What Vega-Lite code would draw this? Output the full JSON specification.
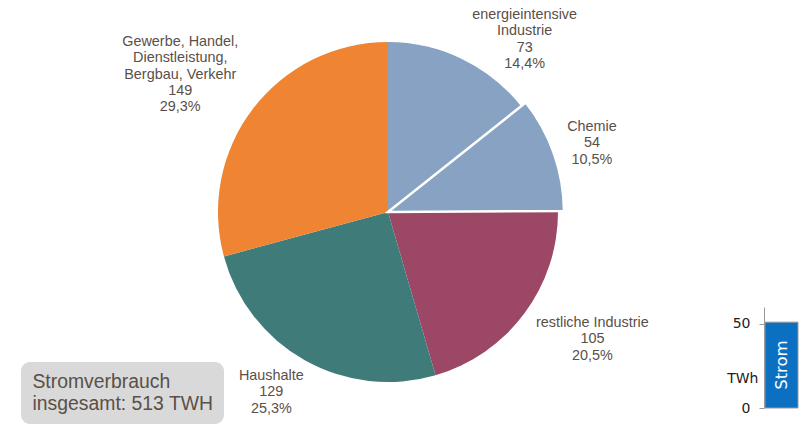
{
  "$schema": "https://vega.github.io/schema/vega-lite/v6.json",
  "padding": {"left": 21, "top": 0, "right": 0, "bottom": 0},
  "background": "white",
  "bounds": "flush",
  "spacing": 69,
  "config": {"view": {"stroke": null}, "font": "Liberation Sans"},
  "hconcat": [
    {
      "width": 614,
      "height": 424,
      "data": {
        "values": [
          {"nr": 1, "sektor": "energieintensive Industrie", "twh": 73, "anteil": "14,4%", "label": "energieintensive\nIndustrie\n73\n14,4%"},
          {"nr": 2, "sektor": "Chemie", "twh": 54, "anteil": "10,5%", "label": "Chemie\n54\n10,5%"},
          {"nr": 3, "sektor": "restliche Industrie", "twh": 105, "anteil": "20,5%", "label": "restliche Industrie\n105\n20,5%"},
          {"nr": 4, "sektor": "Haushalte", "twh": 129, "anteil": "25,3%", "label": "Haushalte\n129\n25,3%"},
          {"nr": 5, "sektor": "Gewerbe, Handel, Dienstleistung, Bergbau, Verkehr", "twh": 149, "anteil": "29,3%", "label": "Gewerbe, Handel,\nDienstleistung,\nBergbau, Verkehr\n149\n29,3%"}
        ]
      },
      "layer": [
        {
          "mark": {"type": "arc", "outerRadius": 170},
          "encoding": {
            "theta": {"field": "twh", "type": "quantitative", "stack": true},
            "order": {"field": "nr", "type": "quantitative"},
            "color": {
              "field": "sektor", "type": "nominal", "legend": null,
              "scale": {
                "domain": ["energieintensive Industrie", "Chemie", "restliche Industrie", "Haushalte", "Gewerbe, Handel, Dienstleistung, Bergbau, Verkehr"],
                "range": ["#87a2c2", "#87a2c2", "#9d4767", "#3e7b79", "#ef8533"]
              }
            }
          }
        },
        {
          "mark": {"type": "arc", "outerRadius": 176, "stroke": "white", "strokeWidth": 2.5},
          "encoding": {
            "theta": {"field": "twh", "type": "quantitative", "stack": true},
            "order": {"field": "nr", "type": "quantitative"},
            "color": {"field": "sektor", "type": "nominal", "legend": null},
            "opacity": {"condition": {"test": "datum.sektor === 'Chemie'", "value": 1}, "value": 0}
          }
        },
        {
          "mark": {"type": "text", "clip": true, "radius": 220, "dx": 41, "dy": 1, "fontSize": 14.4, "lineHeight": 16.4, "lineBreak": "\n", "align": "center", "baseline": "middle", "color": "#5a5048"},
          "encoding": {
            "theta": {"field": "twh", "type": "quantitative", "stack": true},
            "order": {"field": "nr", "type": "quantitative"},
            "detail": {"field": "sektor", "type": "nominal"},
            "text": {"condition": {"test": "datum.sektor === 'energieintensive Industrie'", "field": "label"}, "value": ""}
          }
        },
        {
          "mark": {"type": "text", "clip": true, "radius": 220, "dx": -3.5, "dy": -12, "fontSize": 14.4, "lineHeight": 16.4, "lineBreak": "\n", "align": "center", "baseline": "middle", "color": "#5a5048"},
          "encoding": {
            "theta": {"field": "twh", "type": "quantitative", "stack": true},
            "order": {"field": "nr", "type": "quantitative"},
            "detail": {"field": "sektor", "type": "nominal"},
            "text": {"condition": {"test": "datum.sektor === 'Chemie'", "field": "label"}, "value": ""}
          }
        },
        {
          "mark": {"type": "text", "clip": true, "radius": 220, "dx": 28, "dy": -20.5, "fontSize": 14.4, "lineHeight": 16.4, "lineBreak": "\n", "align": "center", "baseline": "middle", "color": "#5a5048"},
          "encoding": {
            "theta": {"field": "twh", "type": "quantitative", "stack": true},
            "order": {"field": "nr", "type": "quantitative"},
            "detail": {"field": "sektor", "type": "nominal"},
            "text": {"condition": {"test": "datum.sektor === 'restliche Industrie'", "field": "label"}, "value": ""}
          }
        },
        {
          "mark": {"type": "text", "clip": true, "radius": 220, "dx": -9, "dy": -28, "fontSize": 14.4, "lineHeight": 16.4, "lineBreak": "\n", "align": "center", "baseline": "middle", "color": "#5a5048"},
          "encoding": {
            "theta": {"field": "twh", "type": "quantitative", "stack": true},
            "order": {"field": "nr", "type": "quantitative"},
            "detail": {"field": "sektor", "type": "nominal"},
            "text": {"condition": {"test": "datum.sektor === 'Haushalte'", "field": "label"}, "value": ""}
          }
        },
        {
          "mark": {"type": "text", "clip": true, "radius": 220, "dx": -33, "dy": -36.5, "fontSize": 14.4, "lineHeight": 16.4, "lineBreak": "\n", "align": "center", "baseline": "middle", "color": "#5a5048"},
          "encoding": {
            "theta": {"field": "twh", "type": "quantitative", "stack": true},
            "order": {"field": "nr", "type": "quantitative"},
            "detail": {"field": "sektor", "type": "nominal"},
            "text": {"condition": {"test": "datum.sektor === 'Gewerbe, Handel, Dienstleistung, Bergbau, Verkehr'", "field": "label"}, "value": ""}
          }
        },
        {
          "data": {"values": [{"zeile": "Stromverbrauch"}, {"zeile": "insgesamt: 513 TWH"}]},
          "mark": {"type": "point", "size": 0, "opacity": 0},
          "encoding": {
            "shape": {
              "field": "zeile", "type": "nominal",
              "sort": ["Stromverbrauch", "insgesamt: 513 TWH"],
              "legend": {
                "orient": "none", "direction": "vertical", "legendX": -60, "legendY": 362,
                "title": null, "fillColor": "#d9d9d9", "cornerRadius": 9, "padding": 10,
                "symbolSize": 0, "symbolOpacity": 0, "symbolStrokeWidth": 0, "labelOffset": -18,
                "labelFont": "Liberation Sans", "labelFontSize": 19.4, "labelColor": "#5a5048",
                "labelLimit": 400, "rowPadding": 1
              }
            }
          }
        }
      ]
    },
    {
      "width": 35,
      "height": 424,
      "data": {"values": [{"traeger": "Strom", "twh": 51}]},
      "encoding": {
        "x": {"field": "traeger", "type": "nominal", "axis": null, "scale": {"paddingInner": 0, "paddingOuter": 0.03}}
      },
      "layer": [
        {
          "mark": {"type": "bar", "color": "#0b6fc2", "stroke": "#9a9a9a", "strokeWidth": 1},
          "encoding": {
            "y": {
              "field": "twh", "type": "quantitative",
              "scale": {"domain": [0, 58], "range": [408, 307]},
              "axis": {
                "values": [0, 50], "title": "TWh", "titleAngle": 0, "titleAlign": "right", "titleBaseline": "middle",
                "titleX": -6, "titleY": 378, "titleFont": "DejaVu Sans", "titleFontSize": 14, "titleFontWeight": "normal", "titleColor": "#222222",
                "labelFont": "DejaVu Sans", "labelFontSize": 14, "labelColor": "#222222", "labelPadding": 9,
                "tickSize": 5, "tickColor": "#999999", "domainColor": "#999999", "grid": false
              }
            }
          }
        },
        {
          "mark": {"type": "text", "angle": 270, "color": "white", "fontSize": 16.5, "font": "DejaVu Sans", "align": "center", "baseline": "middle"},
          "encoding": {
            "y": {"datum": 25.5, "type": "quantitative"},
            "text": {"field": "traeger", "type": "nominal"}
          }
        }
      ]
    }
  ]
}
